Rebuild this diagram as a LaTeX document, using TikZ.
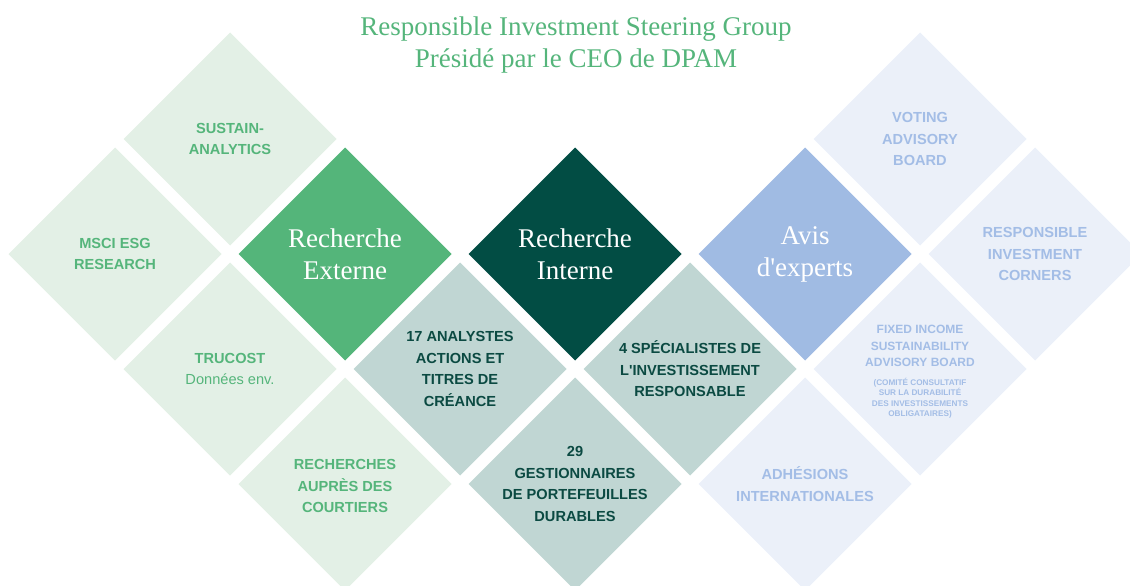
\documentclass[tikz,border=0pt]{standalone}
\usepackage{fontspec}
\newfontfamily\seriffont{Liberation Serif}
\newfontfamily\labelfont{Liberation Sans}
\usetikzlibrary{positioning,shapes.geometric}

\definecolor{dpamgreen}{HTML}{54B57A}
\definecolor{dpamdark}{HTML}{024D44}
\definecolor{dpamteal}{HTML}{C0D6D3}
\definecolor{dpamblue}{HTML}{A0BBE3}
\definecolor{palegreen}{HTML}{E3F0E6}
\definecolor{paleblue}{HTML}{EBF0F9}
\definecolor{greentext}{HTML}{55B57B}
\definecolor{darktext}{HTML}{0B4A42}
\definecolor{bluetext}{HTML}{A3BDE6}

\begin{document}
\begin{tikzpicture}[x=1pt,y=-1pt,
	tile/.style={diamond,minimum width=213pt,minimum height=213pt,inner sep=0pt,outer sep=0pt},
	headtxt/.style={text=white,align=center,font=\seriffont\fontsize{27}{32}\selectfont},
	boxtxt/.style={align=center,inner sep=0pt,font=\labelfont\bfseries\fontsize{14.6}{21.5}\selectfont}]
	\useasboundingbox (0,0) rectangle (1130,586);
	\begin{scope}
		\clip (0,0) rectangle (1130,586);
		% external research
		\node[tile,fill=palegreen] (sustain) at (230,139) {};
		\node[tile,fill=palegreen] (msci) at (115,254) {};
		\node[tile,fill=dpamgreen] (ext) at (345,254) {};
		\node[tile,fill=palegreen] (trucost) at (230,369) {};
		\node[tile,fill=palegreen] (courtiers) at (345,484) {};
		% internal research
		\node[tile,fill=dpamteal] (analystes) at (460,369) {};
		\node[tile,fill=dpamdark] (int) at (575,254) {};
		\node[tile,fill=dpamteal] (gestion) at (575,484) {};
		\node[tile,fill=dpamteal] (special) at (690,369) {};
		% experts
		\node[tile,fill=dpamblue] (avis) at (805,254) {};
		\node[tile,fill=paleblue] (voting) at (920,139) {};
		\node[tile,fill=paleblue] (corners) at (1035,254) {};
		\node[tile,fill=paleblue] (fixed) at (920,369) {};
		\node[tile,fill=paleblue] (adhesion) at (805,484) {};
	\end{scope}

	\node[text=greentext,align=center,font=\seriffont\fontsize{27}{31.5}\selectfont] (title) at (576,45) {Responsible Investment Steering Group\\Présidé par le CEO de DPAM};

	\node[headtxt] (ext-t) at (ext) {Recherche\\Externe};
	\node[headtxt] (int-t) at (int) {Recherche\\Interne};
	\node[headtxt] (avis-t) at (avis) {Avis\\d'experts};

	\node[boxtxt,text=greentext] (sustain-t) at (sustain) {SUSTAIN-\\ANALYTICS};
	\node[boxtxt,text=greentext] (msci-t) at (msci) {MSCI ESG\\RESEARCH};
	\node[boxtxt,text=greentext] (trucost-t) at (trucost) {TRUCOST\\{\mdseries Données env.}};
	\node[boxtxt,text=greentext] (courtiers-t) at ([yshift=-2pt]courtiers) {RECHERCHES\\AUPRÈS DES\\COURTIERS};

	\node[boxtxt,text=darktext] (analystes-t) at (analystes) {17 ANALYSTES\\ACTIONS ET\\TITRES DE\\CRÉANCE};
	\node[boxtxt,text=darktext] (gestion-t) at (gestion) {29\\GESTIONNAIRES\\DE PORTEFEUILLES\\DURABLES};
	\node[boxtxt,text=darktext] (special-t) at (special) {4 SPÉCIALISTES DE\\L'INVESTISSEMENT\\RESPONSABLE};

	\node[boxtxt,text=bluetext] (voting-t) at (voting) {VOTING\\ADVISORY\\BOARD};
	\node[boxtxt,text=bluetext] (corners-t) at (corners) {RESPONSIBLE\\INVESTMENT\\CORNERS};
	\node[boxtxt,text=bluetext] (adhesion-t) at (adhesion) {ADHÉSIONS\\INTERNATIONALES};
	\node[boxtxt,text=bluetext,font=\labelfont\bfseries\fontsize{12}{16.5}\selectfont] (fixed-t) at ([yshift=23pt]fixed) {FIXED INCOME\\SUSTAINABILITY\\ADVISORY BOARD};
	\node[boxtxt,text=bluetext,font=\labelfont\bfseries\fontsize{8.2}{10.4}\selectfont,below=11pt of fixed-t] (fixed-s) {(COMITÉ CONSULTATIF\\SUR LA DURABILITÉ\\DES INVESTISSEMENTS\\OBLIGATAIRES)};
\end{tikzpicture}
\end{document}
